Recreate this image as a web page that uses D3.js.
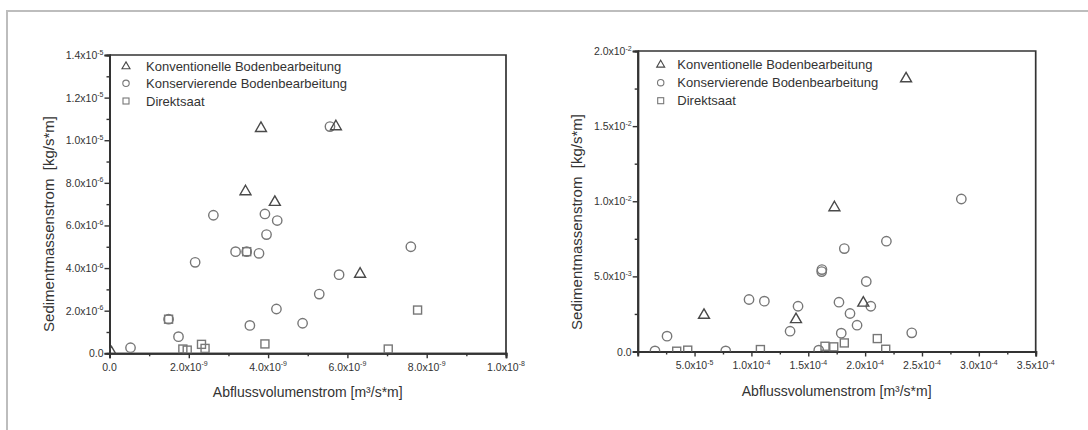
<!DOCTYPE html>
<html><head><meta charset="utf-8">
<script src="https://cdn.jsdelivr.net/npm/d3@7"></script>
<style>
html,body{margin:0;padding:0;background:#fff;}
svg{display:block;font-family:"Liberation Sans",Arial,sans-serif;}
</style></head>
<body>
<svg id="chart" width="1088" height="430"></svg>
<script>
// ---------- Data ----------
const seriesNames = ["Konventionelle Bodenbearbeitung", "Konservierende Bodenbearbeitung", "Direktsaat"];

// Left panel  (x: m³/s*m, y: kg/s*m)
const leftKonvX = [0.05e-9, 3.82e-9, 3.43e-9, 4.17e-9, 5.71e-9, 6.32e-9];
const leftKonvY = [0.03e-6, 10.56e-6, 7.59e-6, 7.09e-6, 10.64e-6, 3.72e-6];
const leftKonsX = [0.53e-9, 1.49e-9, 1.74e-9, 2.16e-9, 2.62e-9, 3.18e-9, 3.46e-9, 3.54e-9, 3.77e-9, 3.92e-9, 3.96e-9, 4.21e-9, 4.23e-9, 4.87e-9, 5.29e-9, 5.56e-9, 5.79e-9, 7.60e-9];
const leftKonsY = [0.26e-6, 1.60e-6, 0.78e-6, 4.27e-6, 6.48e-6, 4.77e-6, 4.77e-6, 1.31e-6, 4.69e-6, 6.54e-6, 5.57e-6, 2.08e-6, 6.23e-6, 1.41e-6, 2.78e-6, 10.64e-6, 3.69e-6, 5.00e-6];
const leftDirX = [1.49e-9, 1.85e-9, 1.96e-9, 2.32e-9, 2.41e-9, 3.46e-9, 3.92e-9, 7.03e-9, 7.77e-9];
const leftDirY = [1.60e-6, 0.20e-6, 0.15e-6, 0.42e-6, 0.23e-6, 4.77e-6, 0.44e-6, 0.20e-6, 2.03e-6];

// Right panel
const rightKonvX = [5.83e-5, 13.92e-5, 17.3e-5, 19.84e-5, 23.6e-5];
const rightKonvY = [2.42e-3, 2.13e-3, 9.58e-3, 3.23e-3, 18.16e-3];
const rightKonsX = [1.52e-5, 2.58e-5, 7.74e-5, 9.79e-5, 11.14e-5, 13.4e-5, 14.1e-5, 15.92e-5, 16.2e-5, 16.18e-5, 17.7e-5, 17.9e-5, 18.17e-5, 18.67e-5, 19.29e-5, 20.1e-5, 20.5e-5, 21.87e-5, 24.1e-5, 28.46e-5];
const rightKonsY = [0.04e-3, 1.02e-3, 0.04e-3, 3.46e-3, 3.35e-3, 1.35e-3, 3.01e-3, 0.09e-3, 5.45e-3, 5.32e-3, 3.28e-3, 1.22e-3, 6.85e-3, 2.53e-3, 1.75e-3, 4.66e-3, 3.01e-3, 7.34e-3, 1.24e-3, 10.15e-3];
const rightDirX = [3.43e-5, 4.4e-5, 10.79e-5, 16.47e-5, 17.24e-5, 18.17e-5, 21.07e-5, 21.81e-5];
const rightDirY = [0.02e-3, 0.09e-3, 0.13e-3, 0.35e-3, 0.31e-3, 0.57e-3, 0.86e-3, 0.15e-3];

// Tick values and labels [mantissa, exponent]
const leftXTicks = [0, 2e-9, 4e-9, 6e-9, 8e-9, 1e-8];
const leftXTickLabels = [["0.0",""],["2.0x10","-9"],["4.0x10","-9"],["6.0x10","-9"],["8.0x10","-9"],["1.0x10","-8"]];
const leftYTicks = [0, 2e-6, 4e-6, 6e-6, 8e-6, 1e-5, 1.2e-5, 1.4e-5];
const leftYTickLabels = [["0.0",""],["2.0x10","-6"],["4.0x10","-6"],["6.0x10","-6"],["8.0x10","-6"],["1.0x10","-5"],["1.2x10","-5"],["1.4x10","-5"]];
const rightXTicks = [5e-5, 1e-4, 1.5e-4, 2e-4, 2.5e-4, 3e-4, 3.5e-4];
const rightXTickLabels = [["5.0x10","-5"],["1.0x10","-4"],["1.5x10","-4"],["2.0x10","-4"],["2.5x10","-4"],["3.0x10","-4"],["3.5x10","-4"]];
const rightYTicks = [0, 5e-3, 1e-2, 1.5e-2, 2e-2];
const rightYTickLabels = [["0.0",""],["5.0x10","-3"],["1.0x10","-2"],["1.5x10","-2"],["2.0x10","-2"]];

const xTitle = "Abflussvolumenstrom [m³/s*m]";
const yTitle = "Sedimentmassenstrom  [kg/s*m]";

// ---------- Drawing ----------
const svg = d3.select("#chart");
const AXIS = "#333", TXT = "#333", MARK = "#777", TRI = "#4a4a4a";

// outer light frame
svg.append("path").attr("d", "M7,430 L7,11 L1088,11").attr("fill","none").attr("stroke","#bdbdbd").attr("stroke-width",2);

function zip(a,b){ return a.map((v,i)=>[v,b[i]]); }

function drawPanel(cfg){
  const g = svg.append("g");
  const x = d3.scaleLinear().domain(cfg.xDomain).range([cfg.left, cfg.right]);
  const y = d3.scaleLinear().domain(cfg.yDomain).range([cfg.bottom, cfg.top]);

  // frame top & right
  g.append("path").attr("d", `M${cfg.left},${cfg.top} H${cfg.right} V${cfg.bottom}`)
    .attr("fill","none").attr("stroke",AXIS).attr("stroke-width",1.7);

  // axes
  const xAx = g.append("g").attr("transform",`translate(0,${cfg.bottom})`)
    .call(d3.axisBottom(x).tickValues(cfg.xMinor).tickSize(3).tickFormat(""));
  const xAxMaj = g.append("g").attr("transform",`translate(0,${cfg.bottom})`)
    .call(d3.axisBottom(x).tickValues(cfg.xTicks).tickSize(5).tickFormat(""));
  const yAx = g.append("g").attr("transform",`translate(${cfg.left},0)`)
    .call(d3.axisLeft(y).tickValues(cfg.yMinor).tickSize(3).tickFormat(""));
  const yAxMaj = g.append("g").attr("transform",`translate(${cfg.left},0)`)
    .call(d3.axisLeft(y).tickValues(cfg.yTicks).tickSize(5).tickFormat(""));
  [xAx,xAxMaj,yAx,yAxMaj].forEach(a=>{
    a.selectAll(".domain").attr("stroke",AXIS).attr("stroke-width",2);
    a.selectAll(".tick line").attr("stroke",AXIS).attr("stroke-width",1.4);
  });

  // tick labels
  function lab(sel, txt){
    sel.append("tspan").text(txt[0]);
    if (txt[1]) sel.append("tspan").attr("dy",-4.5).attr("font-size",7).text(txt[1]);
  }
  cfg.xTicks.forEach((v,i)=>{
    const t = g.append("text").attr("x",x(v)).attr("y",cfg.bottom+17.5).attr("text-anchor","middle")
      .attr("font-size",10.5).attr("fill",TXT);
    lab(t, cfg.xLabels[i]);
  });
  cfg.yTicks.forEach((v,i)=>{
    const t = g.append("text").attr("x",cfg.left-6).attr("y",y(v)+4).attr("text-anchor","end")
      .attr("font-size",10.5).attr("fill",TXT);
    lab(t, cfg.yLabels[i]);
  });

  // titles
  g.append("text").attr("x",(cfg.left+cfg.right)/2).attr("y",cfg.bottom+44).attr("text-anchor","middle")
    .attr("font-size",14).attr("fill",TXT).text(xTitle);
  g.append("text").attr("transform",`translate(${cfg.yTitleX},${cfg.yTitleY}) rotate(-90)`)
    .attr("text-anchor","middle").attr("font-size",15).attr("fill",TXT)
    .style("white-space","pre").text(yTitle);

  // markers
  const clipId = "clip"+cfg.id;
  g.append("clipPath").attr("id",clipId).append("rect")
    .attr("x",cfg.left).attr("y",cfg.top).attr("width",cfg.right-cfg.left+6).attr("height",cfg.bottom-cfg.top);
  const m = g.append("g").attr("clip-path",`url(#${clipId})`);
  const triSym = d3.symbol().type(d3.symbolTriangle).size(52);
  m.selectAll(".c").data(zip(cfg.konsX,cfg.konsY)).join("circle")
    .attr("cx",d=>x(d[0])).attr("cy",d=>y(d[1])).attr("r",4.7)
    .attr("fill","none").attr("stroke",MARK).attr("stroke-width",1.4);
  m.selectAll(".s").data(zip(cfg.dirX,cfg.dirY)).join("rect")
    .attr("x",d=>x(d[0])-4).attr("y",d=>y(d[1])-4).attr("width",8).attr("height",8)
    .attr("fill","none").attr("stroke",MARK).attr("stroke-width",1.4);
  m.selectAll(".t").data(zip(cfg.konvX,cfg.konvY)).join("path")
    .attr("d",triSym).attr("transform",d=>`translate(${x(d[0])},${y(d[1])})`)
    .attr("fill","none").attr("stroke",TRI).attr("stroke-width",1.4);

  // legend
  const lg = g.append("g");
  const rows = cfg.legendRows;
  lg.append("path").attr("d",d3.symbol().type(d3.symbolTriangle).size(28))
    .attr("transform",`translate(${cfg.legSymX},${rows[0]+0.5})`).attr("fill","none").attr("stroke",TRI).attr("stroke-width",1.1);
  lg.append("circle").attr("cx",cfg.legSymX).attr("cy",rows[1]).attr("r",3.2)
    .attr("fill","none").attr("stroke",MARK).attr("stroke-width",1.1);
  lg.append("rect").attr("x",cfg.legSymX-3).attr("y",rows[2]-3).attr("width",6).attr("height",6)
    .attr("fill","none").attr("stroke",MARK).attr("stroke-width",1.1);
  seriesNames.forEach((n,i)=>{
    lg.append("text").attr("x",cfg.legTextX).attr("y",rows[i]+4.6).attr("font-size",13)
      .attr("fill",TXT).text(n);
  });
}

function minorBetween(ticks){
  const out=[];
  for(let i=0;i<ticks.length-1;i++) out.push((ticks[i]+ticks[i+1])/2);
  return out;
}

drawPanel({
  id:"L", left:109.5, right:506, top:55, bottom:353.3,
  xDomain:[0,1e-8], yDomain:[0,1.4e-5],
  xTicks:leftXTicks, xLabels:leftXTickLabels, yTicks:leftYTicks, yLabels:leftYTickLabels,
  xMinor:minorBetween(leftXTicks), yMinor:minorBetween(leftYTicks),
  konvX:leftKonvX, konvY:leftKonvY, konsX:leftKonsX, konsY:leftKonsY, dirX:leftDirX, dirY:leftDirY,
  yTitleX:54, yTitleY:224,
  legSymX:126, legTextX:146, legendRows:[66,83.3,101]
});
drawPanel({
  id:"R", left:637.7, right:1035.7, top:51, bottom:351.5,
  xDomain:[0,3.5e-4], yDomain:[0,2e-2],
  xTicks:rightXTicks, xLabels:rightXTickLabels, yTicks:rightYTicks, yLabels:rightYTickLabels,
  xMinor:[0,2.5e-5].concat(minorBetween(rightXTicks)), yMinor:minorBetween(rightYTicks),
  konvX:rightKonvX, konvY:rightKonvY, konsX:rightKonsX, konsY:rightKonsY, dirX:rightDirX, dirY:rightDirY,
  yTitleX:582, yTitleY:222,
  legSymX:660.7, legTextX:677.3, legendRows:[64.3,82.7,100.7]
});
</script>
</body></html>
